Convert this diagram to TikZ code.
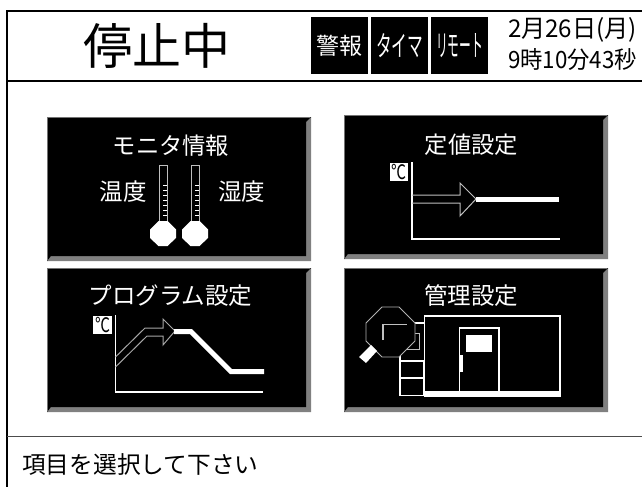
\documentclass[tikz,border=0pt]{standalone}
\usepackage{fontspec}
\usepackage{graphicx}
\setmainfont{Noto Sans CJK JP}
\tikzset{
  x=1pt,y=-1pt,
  wt/.style={text=white,inner sep=0pt,anchor=center},
  bk/.style={text=black,inner sep=0pt,anchor=center},
  wl/.style={draw=white,line width=1.5pt},
  gl/.style={draw=white!75!black,line width=1pt},
  fr/.style={draw=black,line width=2pt}
}
\newcommand{\panel}[4]{% x1 y1 x2 y2
  \fill[black!50] (#3,#2) -- (#3,#4) -- (#1,#4) -- (#1+4,#4-5) -- (#3-5,#4-5) -- (#3-5,#2+5) -- cycle;
  \fill[black] (#1,#2) -- (#3,#2) -- (#3-5,#2+5) -- (#3-5,#4-5) -- (#1+4,#4-5) -- (#1,#4) -- cycle;
  \draw[black!55,line width=.8pt] (#1+.4,#4-1) -- (#1+.4,#2+.4) -- (#3-1,#2+.4);
}
\begin{document}
\begin{tikzpicture}
\useasboundingbox (0,0) rectangle (642,487);
\fill[white] (0,0) rectangle (642,487);
% frame
\draw[fr] (642,11) -- (7,11) -- (7,487);
\draw[line width=1.5pt,black] (7,81) -- (642,81);
\draw[line width=1pt,black!70] (7,436) -- (642,436);
% header
\node[bk,font=\fontsize{49}{49}\selectfont] (title) at (157,45.5) {停止中};
\fill[black] (311,17) rectangle (368,74);
\fill[black] (371,17) rectangle (428,74);
\fill[black] (431,17) rectangle (488,74);
\node[wt,font=\fontsize{23}{23}\selectfont] (t1) at (339.5,46) {警報};
\node[wt,font=\fontsize{22}{22}\selectfont] (t2) at (399.5,46) {\resizebox{47pt}{23pt}{タイマ}};
\node[wt,font=\fontsize{22}{22}\selectfont] (t3) at (459.5,46) {\resizebox{47pt}{23pt}{リモート}};
\node[bk,font=\fontsize{22}{22}\selectfont] (d1) at (572.5,30) {\resizebox{129pt}{20pt}{2月26日(月)}};
\node[bk,font=\fontsize{22}{22}\selectfont] (d2) at (572.5,60) {\resizebox{129pt}{20pt}{9時10分43秒}};
% panels
\panel{47}{117}{311}{261}
\panel{344}{115}{608}{259}
\panel{47}{268}{311}{412}
\panel{344}{268}{608}{412}
% panel A
\node[wt,font=\fontsize{23.3}{24}\selectfont] (pa) at (171,146) {モニタ情報};
\node[wt,font=\fontsize{23.5}{24}\selectfont] (pa1) at (123,192) {温度};
\node[wt,font=\fontsize{23.5}{24}\selectfont] (pa2) at (241.5,192) {湿度};
\foreach \cx in {163,195}{
  \draw[gl] (\cx-4,223) -- (\cx-4,165) -- (\cx+4,165) -- (\cx+4,223);
  \fill[white] (\cx-4.5,221) -- (\cx+4.5,221) -- (\cx+13,229.5) -- (\cx+13,238) -- (\cx+4.5,246) -- (\cx-4.5,246) -- (\cx-13,238) -- (\cx-13,229.5) -- cycle;
  \foreach \yy in {185,190,...,215}{\draw[white,line width=.7pt] (\cx,\yy) -- (\cx+4,\yy);}
}
% panel B
\node[wt,font=\fontsize{23.3}{24}\selectfont] (pb) at (471.5,145) {定値設定};
\fill[white] (390,163) rectangle (408,181);
\node[bk,font=\fontsize{20}{20}\selectfont] (cb) at (399,172) {\scalebox{0.75}[1]{℃}};
\draw[wl] (412,162) -- (412,239) -- (560,239);
\draw[gl] (412,195) -- (460,195) -- (460,183) -- (476,199) -- (460,216) -- (460,203) -- (412,203);
\draw[white,line width=5pt] (476,199.5) -- (559,199.5);
% panel C
\node[wt,font=\fontsize{23.5}{24}\selectfont] (pc) at (170.5,296) {プログラム設定};
\fill[white] (93,316) rectangle (112,334);
\node[bk,font=\fontsize{20}{20}\selectfont] (cc) at (102.5,325) {\scalebox{0.75}[1]{℃}};
\draw[wl] (115.5,315) -- (115.5,392) -- (263,392);
\draw[draw=white!65!black,line width=1pt] (115.5,357) -- (145,328) -- (163,328) -- (163,319) -- (175,331) -- (163,345) -- (163,336) -- (147,336) -- (115.5,367);
\fill[white] (174,329) -- (192,329) -- (232,369) -- (264,369) -- (264,374) -- (230,374) -- (190,334) -- (174,334) -- cycle;
% panel D
\node[wt,font=\fontsize{23.5}{24}\selectfont] (pd) at (471,296) {管理設定};
\draw[wl] (424.5,316) rectangle (560,396);
\fill[white] (424,391) rectangle (560.7,396.7);
\draw[wl] (459.5,392) -- (459.5,328) -- (499,328) -- (499,392);
\fill[white] (466,335) rectangle (492,352);
\fill[white] (459,355) rectangle (463,372);
\draw[wl] (400,361) rectangle (424,395.7);
\draw[wl] (400,378) -- (424,378);
\draw[wl] (400,340) -- (400,361);
\draw[gl] (415,333) -- (419,333) -- (419,349) -- (405,349);
\draw[wl] (413,323) -- (424,323);
\draw[fill=black,draw=black!30!white,line width=.8pt] (382,307) -- (399,307) -- (415,323) -- (415,341) -- (399,357) -- (382,357) -- (366,341) -- (366,323) -- cycle;
\draw[black!25!white,line width=1.2pt] (383,340) -- (383,324.5) -- (407,324.5);
\fill[white] (371,345) -- (377,351) -- (366,363) -- (359,357) -- cycle;
% status
\node[anchor=west,inner sep=0pt,font=\fontsize{23.7}{24}\selectfont] (msg) at (22,465) {項目を選択して下さい};
\end{tikzpicture}
\end{document}
